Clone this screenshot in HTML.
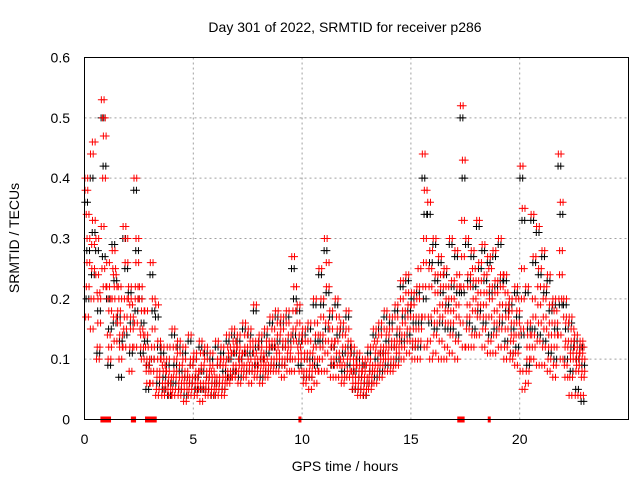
<!DOCTYPE html>
<html><head><meta charset="utf-8"><style>
html,body{margin:0;padding:0;background:#fff}
svg{display:block;font-family:"Liberation Sans",sans-serif}
</style></head><body>
<svg id="chart" width="640" height="480">
<text x="345" y="32" text-anchor="middle" font-size="14">Day 301 of 2022, SRMTID for receiver p286</text>
<text x="345" y="471" text-anchor="middle" font-size="14">GPS time / hours</text>
<text transform="translate(19,238) rotate(-90)" text-anchor="middle" font-size="14">SRMTID / TECUs</text>
<g id="grid"></g><g id="ticks"></g><g id="black"></g><g id="red"></g><g id="zero"></g>
<rect x="84.5" y="57.5" width="544" height="362" fill="none" stroke="#000"/>
</svg>
<script>
const xTicks=[0,5,10,15,20];
const yTicks=[0,0.1,0.2,0.3,0.4,0.5,0.6];
const yTickLabels=["0","0.1","0.2","0.3","0.4","0.5","0.6"];
const binStart=0, binStep=0.25;
const redBins=[
[0.38,0.30,0.22,0.17,0.40,0.26,0.34],[0.44,0.33,0.25,0.20,0.15,0.46,0.29],[0.30,0.20,0.12,0.10,0.24,0.16,0.21],[0.53,0.47,0.40,0.25,0.32,0.22,0.50],
[0.22,0.18,0.10,0.14,0.26,0.12,0.20],[0.28,0.22,0.17,0.25,0.20,0.13,0.24],[0.18,0.14,0.10,0.22,0.16,0.12,0.20],[0.32,0.26,0.20,0.15,0.12,0.30,0.17],
[0.22,0.17,0.12,0.08,0.20,0.15,0.19],[0.40,0.30,0.22,0.16,0.12,0.26,0.20],[0.22,0.18,0.12,0.15,0.20,0.10,0.14],[0.14,0.10,0.08,0.12,0.18,0.06,0.09],
[0.26,0.20,0.12,0.08,0.06,0.15,0.10],[0.19,0.13,0.08,0.05,0.04,0.10,0.07],[0.12,0.08,0.06,0.04,0.10,0.05,0.09],[0.10,0.07,0.05,0.12,0.08,0.04,0.06],
[0.15,0.10,0.07,0.05,0.04,0.08,0.12],[0.13,0.09,0.06,0.04,0.11,0.07,0.05],[0.12,0.08,0.05,0.03,0.10,0.07,0.06],[0.14,0.10,0.07,0.05,0.04,0.09,0.06],
[0.11,0.08,0.06,0.04,0.10,0.05,0.07],[0.13,0.09,0.06,0.03,0.08,0.05,0.11],[0.12,0.08,0.05,0.04,0.10,0.07,0.06],[0.11,0.07,0.05,0.04,0.09,0.06,0.08],
[0.13,0.10,0.07,0.05,0.04,0.09,0.06],[0.12,0.09,0.06,0.04,0.10,0.07,0.05],[0.14,0.11,0.08,0.06,0.10,0.07,0.12],[0.15,0.12,0.09,0.07,0.11,0.08,0.13],
[0.14,0.11,0.08,0.06,0.12,0.09,0.10],[0.16,0.12,0.09,0.07,0.11,0.14,0.08],[0.15,0.12,0.09,0.06,0.10,0.13,0.08],[0.19,0.13,0.10,0.07,0.11,0.09,0.08],
[0.14,0.11,0.08,0.06,0.12,0.09,0.10],[0.15,0.12,0.09,0.07,0.10,0.13,0.08],[0.17,0.13,0.10,0.08,0.12,0.15,0.09],[0.18,0.14,0.10,0.08,0.12,0.16,0.11],
[0.17,0.13,0.10,0.07,0.15,0.12,0.09],[0.18,0.14,0.11,0.08,0.16,0.12,0.10],[0.27,0.22,0.15,0.10,0.08,0.13,0.18],[0.19,0.14,0.10,0.12,0.16,0.08,0.11],
[0.15,0.11,0.08,0.06,0.13,0.10,0.07],[0.16,0.11,0.08,0.05,0.13,0.09,0.07],[0.20,0.14,0.10,0.06,0.12,0.08,0.16],[0.25,0.20,0.14,0.10,0.08,0.17,0.12],
[0.30,0.22,0.16,0.11,0.08,0.26,0.13],[0.18,0.13,0.10,0.07,0.15,0.09,0.12],[0.20,0.15,0.11,0.07,0.13,0.09,0.17],[0.16,0.12,0.09,0.06,0.10,0.14,0.07],
[0.18,0.13,0.10,0.07,0.15,0.11,0.08],[0.12,0.09,0.06,0.05,0.08,0.10,0.07],[0.11,0.08,0.06,0.04,0.09,0.07,0.05],[0.10,0.07,0.05,0.04,0.08,0.06,0.09],
[0.12,0.09,0.06,0.05,0.10,0.08,0.07],[0.15,0.11,0.08,0.06,0.12,0.09,0.13],[0.16,0.12,0.09,0.07,0.14,0.10,0.11],[0.18,0.14,0.10,0.08,0.15,0.12,0.11],
[0.17,0.13,0.10,0.08,0.15,0.12,0.09],[0.19,0.15,0.11,0.09,0.17,0.13,0.12],[0.23,0.18,0.14,0.10,0.20,0.16,0.12],[0.24,0.19,0.15,0.11,0.21,0.17,0.13],
[0.21,0.17,0.13,0.10,0.19,0.15,0.12],[0.22,0.17,0.13,0.10,0.20,0.15,0.25],[0.44,0.38,0.30,0.22,0.17,0.12,0.26],[0.36,0.28,0.22,0.17,0.13,0.10,0.25],
[0.30,0.24,0.18,0.14,0.11,0.21,0.16],[0.27,0.22,0.17,0.13,0.10,0.24,0.19],[0.25,0.20,0.16,0.12,0.10,0.22,0.18],[0.30,0.23,0.18,0.14,0.11,0.20,0.16],
[0.28,0.22,0.17,0.13,0.10,0.24,0.19],[0.52,0.43,0.33,0.22,0.16,0.12,0.27],[0.30,0.24,0.19,0.15,0.12,0.22,0.17],[0.28,0.23,0.18,0.14,0.12,0.20,0.25],
[0.33,0.26,0.21,0.17,0.14,0.23,0.19],[0.29,0.24,0.19,0.15,0.12,0.21,0.17],[0.27,0.22,0.17,0.13,0.11,0.20,0.25],[0.28,0.23,0.18,0.14,0.11,0.21,0.16],
[0.30,0.24,0.19,0.15,0.12,0.22,0.17],[0.24,0.19,0.15,0.12,0.10,0.17,0.21],[0.20,0.16,0.13,0.10,0.18,0.14,0.11],[0.22,0.18,0.14,0.11,0.09,0.16,0.20],
[0.42,0.35,0.25,0.15,0.08,0.05,0.20],[0.22,0.16,0.12,0.08,0.06,0.14,0.10],[0.34,0.27,0.20,0.14,0.10,0.17,0.12],[0.32,0.25,0.19,0.13,0.09,0.16,0.22],
[0.28,0.22,0.17,0.12,0.09,0.15,0.20],[0.24,0.19,0.14,0.10,0.08,0.16,0.12],[0.20,0.16,0.12,0.09,0.07,0.14,0.18],[0.44,0.36,0.28,0.20,0.14,0.10,0.24],
[0.20,0.16,0.12,0.09,0.17,0.13,0.07],[0.17,0.13,0.10,0.07,0.04,0.15,0.11],[0.14,0.11,0.08,0.04,0.12,0.09,0.10],[0.13,0.10,0.07,0.04,0.11,0.08,0.12]
];
const blackBins=[
[0.36,0.28,0.20],[0.40,0.31,0.24],[0.28,0.18,0.11],[0.50,0.42,0.27],[0.20,0.15,0.09],[0.29,0.23,0.16],[0.17,0.13,0.07],[0.30,0.25,0.14],
[0.21,0.16,0.11],[0.38,0.28,0.18],[0.20,0.16,0.11],[0.13,0.09,0.05],[0.24,0.18,0.10],[0.17,0.12,0.06],[0.11,0.07,0.05],[0.09,0.06,0.04],
[0.14,0.09,0.06],[0.12,0.08,0.05],[0.11,0.07,0.04],[0.13,0.09,0.06],[0.10,0.07,0.05],[0.12,0.08,0.05],[0.11,0.07,0.05],[0.10,0.06,0.04],
[0.12,0.09,0.06],[0.11,0.08,0.05],[0.13,0.10,0.07],[0.14,0.11,0.08],[0.13,0.10,0.07],[0.15,0.11,0.08],[0.14,0.11,0.08],[0.18,0.12,0.09],
[0.13,0.10,0.07],[0.14,0.11,0.08],[0.16,0.12,0.09],[0.17,0.13,0.09],[0.16,0.12,0.09],[0.17,0.13,0.10],[0.25,0.20,0.14],[0.18,0.13,0.09],
[0.14,0.10,0.07],[0.15,0.10,0.07],[0.19,0.13,0.09],[0.24,0.19,0.13],[0.28,0.21,0.15],[0.17,0.12,0.09],[0.19,0.14,0.10],[0.15,0.11,0.08],
[0.17,0.12,0.09],[0.11,0.08,0.05],[0.10,0.07,0.05],[0.09,0.06,0.04],[0.11,0.08,0.06],[0.14,0.10,0.07],[0.15,0.11,0.08],[0.17,0.13,0.09],
[0.16,0.12,0.09],[0.18,0.14,0.10],[0.22,0.17,0.13],[0.23,0.18,0.14],[0.20,0.16,0.12],[0.21,0.16,0.12],[0.40,0.34,0.20],[0.34,0.26,0.16],
[0.29,0.23,0.15],[0.26,0.21,0.16],[0.24,0.19,0.15],[0.29,0.22,0.15],[0.27,0.21,0.14],[0.50,0.40,0.21],[0.29,0.23,0.16],[0.27,0.22,0.15],
[0.32,0.25,0.18],[0.28,0.23,0.16],[0.26,0.21,0.14],[0.27,0.22,0.15],[0.29,0.23,0.16],[0.23,0.18,0.13],[0.19,0.15,0.11],[0.21,0.17,0.12],
[0.40,0.33,0.14],[0.21,0.15,0.09],[0.33,0.26,0.15],[0.31,0.24,0.14],[0.27,0.21,0.13],[0.23,0.18,0.11],[0.19,0.15,0.10],[0.42,0.34,0.19],
[0.19,0.15,0.10],[0.16,0.12,0.08],[0.13,0.10,0.05],[0.12,0.09,0.03]
];
const zeroTimes=[0.8,0.9,1.0,1.05,1.1,1.15,2.2,2.3,2.85,2.9,2.95,3.05,3.15,3.25,9.9,17.2,17.3,17.4,18.6];
const NS="http://www.w3.org/2000/svg";
const X0=84.5,XPX=21.76,Y0=419.5,YPX=603.3;
const xs=t=>X0+t*XPX, ys=v=>Y0-v*YPX;
const g=id=>document.getElementById(id);
function mk(tag,attrs,parent){const e=document.createElementNS(NS,tag);for(const k in attrs)e.setAttribute(k,attrs[k]);parent.appendChild(e);return e;}
xTicks.forEach(t=>{
  const x=xs(t);
  if(t>0){const l=mk('line',{x1:x,y1:57.5,x2:x,y2:419.5,stroke:'#a0a0a0','stroke-dasharray':'2,3','stroke-width':1},g('grid'));
  
  }
  const tx=mk('text',{x:x,y:444,'text-anchor':'middle','font-size':14},g('ticks'));tx.textContent=t;
  
  
});
yTicks.forEach((v,i)=>{
  const y=ys(v);
  if(v>0){const l=mk('line',{x1:84.5,y1:y,x2:628.5,y2:y,stroke:'#a0a0a0','stroke-dasharray':'2,3','stroke-width':1},g('grid'));
  
  }
  const tx=mk('text',{x:70,y:y+5,'text-anchor':'end','font-size':14},g('ticks'));tx.textContent=yTickLabels[i];
  
  
});
function plus(parent,t,v,col){
  const x=xs(t),y=ys(v);
  return mk('path',{d:`M${x-3.5},${y}h7M${x},${y-3.5}v7`,stroke:col,'stroke-width':1,fill:'none'},parent);
}
function drawBins(bins,parent,col,name,offs){
  bins.forEach((vals,i)=>{
    vals.forEach((v,k)=>{
      offs.forEach(off=>{
        const t=binStart+i*binStep+((k*0.37+off)%1)*binStep;
        const p=plus(parent,t,v,col);
        
        
      });
    });
  });
}
drawBins(blackBins,g('black'),'#000','black-point',[0.55,0.05]);
drawBins(redBins,g('red'),'#ff0000','red-point',[0.1,0.6]);
zeroTimes.forEach(t=>{
  const r=mk('rect',{x:xs(t)-1.5,y:Y0-3,width:3,height:6,fill:'#ff0000'},g('zero'));
  
  
});
</script>
</body></html>
